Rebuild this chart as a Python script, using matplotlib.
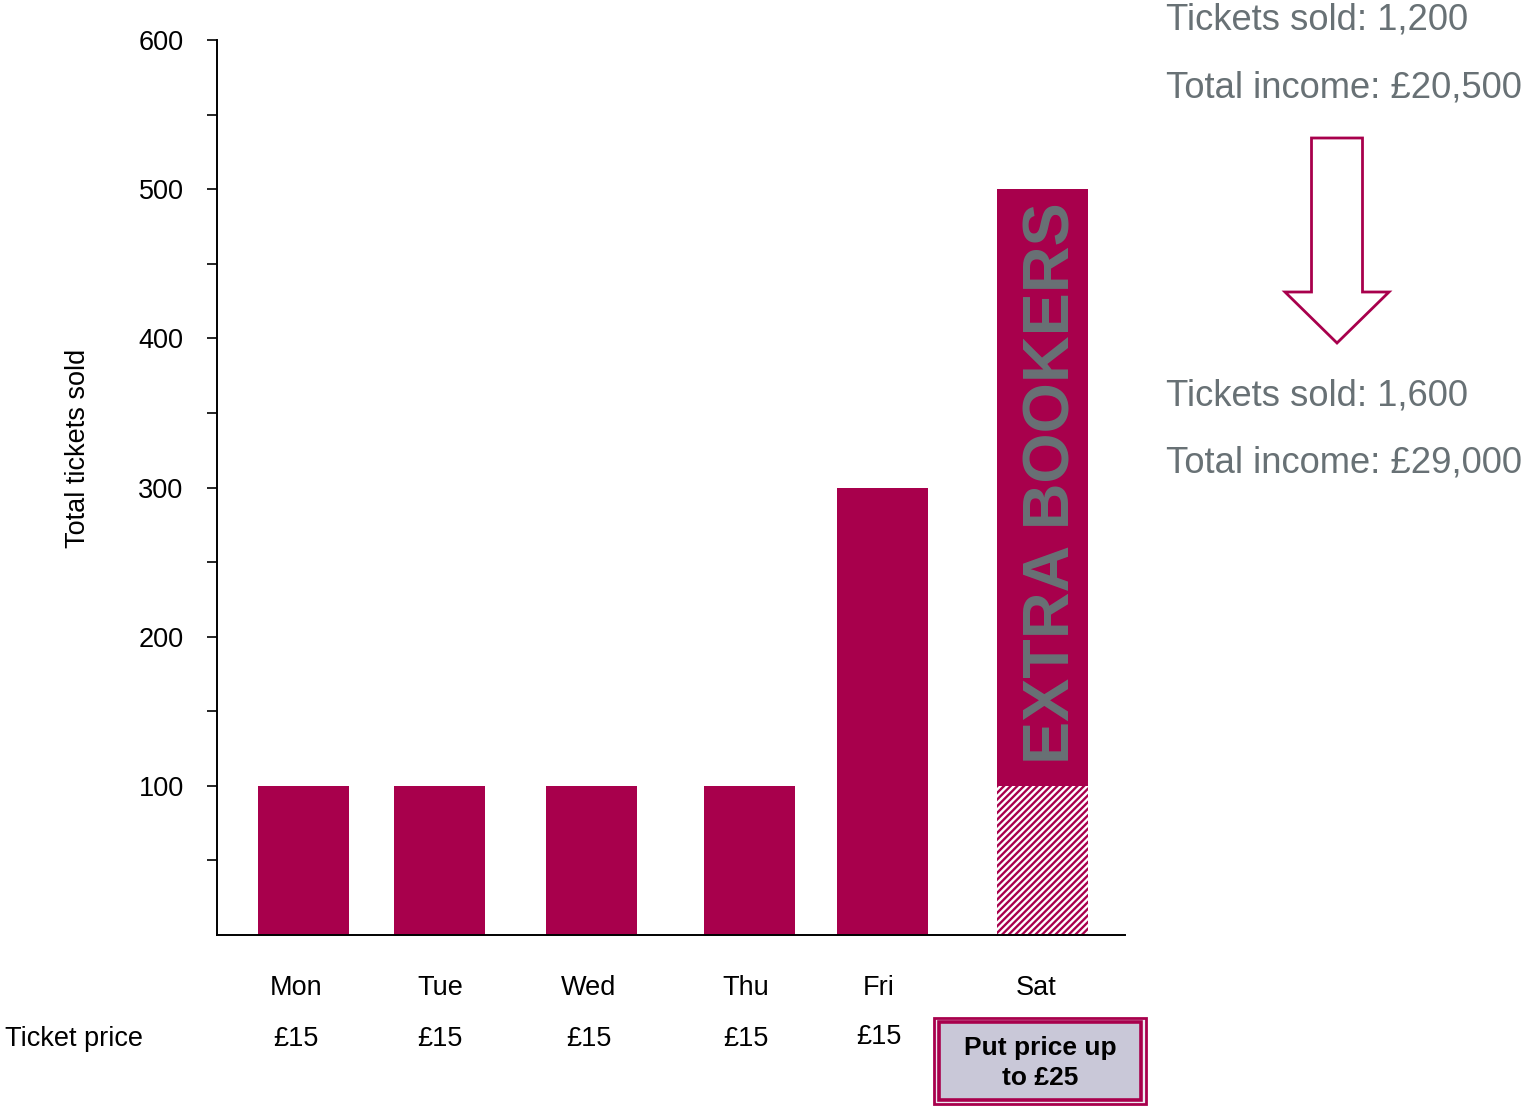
import matplotlib
matplotlib.use("Agg")
import matplotlib.pyplot as plt
from matplotlib.patches import Rectangle, FancyArrow
from matplotlib.transforms import blended_transform_factory

plt.rcParams["font.family"] = ["Liberation Sans", "DejaVu Sans"]
plt.rcParams["hatch.linewidth"] = 1.7

days = ["Mon", "Tue", "Wed", "Thu", "Fri", "Sat"]
prices = ["£15", "£15", "£15", "£15", "£15", None]
day_pos = [0.87, 2.23, 3.75, 5.33, 6.66, 8.26]
base_sold = [100, 100, 100, 100, 300, 100]   # Sat base part is hatched
extra_sold = [0, 0, 0, 0, 0, 400]            # Sat extra bookers on top
label_pos = [0.79, 2.23, 3.72, 5.29, 6.62, 8.19]

before_sold, before_income = "1,200", "£20,500"
after_sold, after_income = "1,600", "£29,000"

CRIMSON = "#A8004C"
GREY = "#687175"

fig = plt.figure(figsize=(15.28, 11.06), dpi=100)
ax = fig.add_axes([0.142, 0.1546, 0.594, 0.8092])

sat = days.index("Sat")
plain = [i for i in range(len(days)) if i != sat]
ax.bar([day_pos[i] for i in plain], [base_sold[i] for i in plain],
       width=0.91, color=CRIMSON, lw=0)
ax.bar(day_pos[sat], base_sold[sat], width=0.91, facecolor=CRIMSON,
       edgecolor="white", linewidth=0, hatch="/////")
ax.bar(day_pos, extra_sold, bottom=base_sold, width=0.91, color=CRIMSON, lw=0)

ax.text(day_pos[sat] + 0.1, base_sold[sat] + extra_sold[sat] / 2 + 3,
        "EXTRA BOOKERS", rotation=90, ha="center", va="center",
        fontsize=46.5, fontweight="bold", color=GREY)

ax.set_xlim(0, 9.08)
ax.set_ylim(0, 600)
ax.set_yticks([100, 200, 300, 400, 500, 600])
ax.set_yticks(range(50, 600, 100), minor=True)
ax.tick_params(axis="y", which="both", direction="out", length=7, width=1.2,
               labelsize=19.5, pad=17)
ax.set_xticks([])
for s in ("top", "right"):
    ax.spines[s].set_visible(False)
ax.spines["left"].set_linewidth(1.4)
ax.spines["bottom"].set_linewidth(1.4)
ax.set_ylabel("Total tickets sold", fontsize=19.5)
ax.yaxis.set_label_coords(-0.139, 0.544)

# day names and ticket prices under the axis
trans = blended_transform_factory(ax.transData, fig.transFigure)
for x, d, p in zip(label_pos, days, prices):
    ax.text(x, 1 - 988 / 1106, d, transform=trans, ha="center", va="center",
            fontsize=19.5, clip_on=False)
    if p is not None:
        yy = 1037 / 1106 if d == "Fri" else 1039 / 1106
        ax.text(x, 1 - yy, p, transform=trans, ha="center", va="center",
                fontsize=19.5, clip_on=False)
fig.text(5 / 1528, 1 - 1039 / 1106, "Ticket price", ha="left", va="center",
         fontsize=19.5)

# overlay in pixel units for the callouts
ov = fig.add_axes([0, 0, 1, 1], zorder=-1)
ov.set_xlim(0, 1528)
ov.set_ylim(1106, 0)
ov.axis("off")

ov.add_patch(Rectangle((934, 1018), 212, 86, facecolor="#EDEBF2",
                       edgecolor=CRIMSON, lw=2))
ov.add_patch(Rectangle((939, 1022), 202, 78, facecolor="#C9C8D8",
                       edgecolor=CRIMSON, lw=2.6))
ov.text(1040, 1063, "Put price up\nto £25", ha="center", va="center",
        fontsize=19, fontweight="bold", linespacing=1.3)

ov.text(1166, 20, f"Tickets sold: {before_sold}", ha="left", va="center",
        fontsize=26.2, color=GREY)
ov.text(1166, 88, f"Total income: {before_income}", ha="left", va="center",
        fontsize=26.2, color=GREY)
ov.text(1166, 396, f"Tickets sold: {after_sold}", ha="left", va="center",
        fontsize=26.2, color=GREY)
ov.text(1166, 463, f"Total income: {after_income}", ha="left", va="center",
        fontsize=26.2, color=GREY)

ov.add_patch(FancyArrow(1337, 138, 0, 205, width=51, head_width=104,
                        head_length=51, length_includes_head=True,
                        facecolor="white", edgecolor=CRIMSON, lw=2))

fig.savefig("out.png", dpi=100)
